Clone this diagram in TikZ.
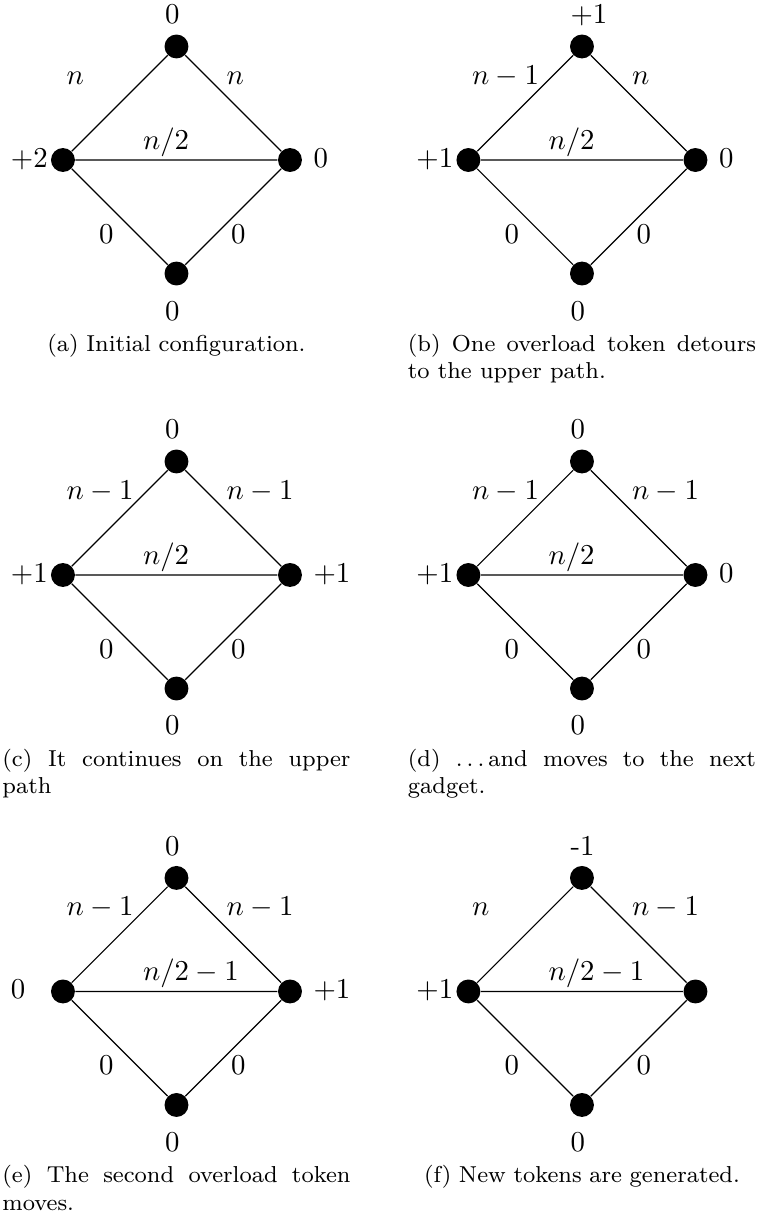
\documentclass[tikz,border=0pt]{standalone}
\usepackage{tikz}
\usetikzlibrary{positioning}

\newcommand{\gadget}[9]{%
  \begin{scope}[shift={(#2)}]
    \node[dot] (#1t) at (0,1.385) {};
    \node[dot] (#1l) at (-1.385,0) {};
    \node[dot] (#1r) at (1.385,0) {};
    \node[dot] (#1b) at (0,-1.385) {};
    \draw (#1l) -- (#1t) -- (#1r) -- (#1b) -- (#1l) -- (#1r);
    \node[wt] (#1tv) at (-0.146,1.66) {#3};
    \node[wt] (#1lv) at (-2.026,-0.09) {#4};
    \node[wt] (#1rv) at (1.665,-0.09) {#5};
    \node[wt] (#1bv) at (-0.146,-1.952) {#6};
    \node[wt] (#1ul) at (-1.348,0.921) {#7};
    \node[wt] (#1ur) at (0.604,0.921) {#8};
    \node[wt] (#1md) at (-0.415,0.134) {#9};
    \node[wt] (#1ll) at (-0.952,-1.016) {0};
    \node[wt] (#1lr) at (0.661,-1.016) {0};
  \end{scope}}
\newcommand{\dotdots}{.\kern\fontdimen3\font.\kern\fontdimen3\font.\kern\fontdimen3\font}

\begin{document}
\begin{tikzpicture}[
  dot/.style={circle,fill=black,inner sep=0pt,minimum size=8.3pt},
  wt/.style={anchor=base west,inner sep=0pt},
  subcap/.style={font=\footnotesize,text width=120.8pt,inner sep=0pt,
                 anchor=north,align=justify}
]
\useasboundingbox (0,0) rectangle (9.25,-14.86);
\gadget{a}{2.153,-1.952}{0}{+2}{0}{0}{$n$}{$n$}{$n/2$}
\gadget{b}{7.1,-1.952}{+1}{+1}{0}{0}{$n-1$}{$n$}{$n/2$}
\gadget{c}{2.153,-7.015}{0}{+1}{+1}{0}{$n-1$}{$n-1$}{$n/2$}
\gadget{d}{7.1,-7.015}{0}{+1}{0}{0}{$n-1$}{$n-1$}{$n/2$}
\gadget{e}{2.153,-12.096}{0}{0}{+1}{0}{$n-1$}{$n-1$}{$n/2-1$}
\gadget{f}{7.1,-12.096}{-1}{+1}{}{0}{$n$}{$n-1$}{$n/2-1$}
\node[subcap,align=center,below=5.8mm of ab] (acap) {(a) Initial configuration.};
\node[subcap,below=5.8mm of bb] (bcap) {(b) One overload token detours to the upper path.};
\node[subcap,below=5.8mm of cb] (ccap) {(c) It continues on the upper path};
\node[subcap,below=5.8mm of db] (dcap) {(d) \dotdots and moves to the next \mbox{gadget.}};
\node[subcap,below=5.8mm of eb] (ecap) {(e) The second overload token moves.};
\node[subcap,align=center,below=5.8mm of fb] (fcap) {(f) New tokens are generated.};
\end{tikzpicture}
\end{document}
